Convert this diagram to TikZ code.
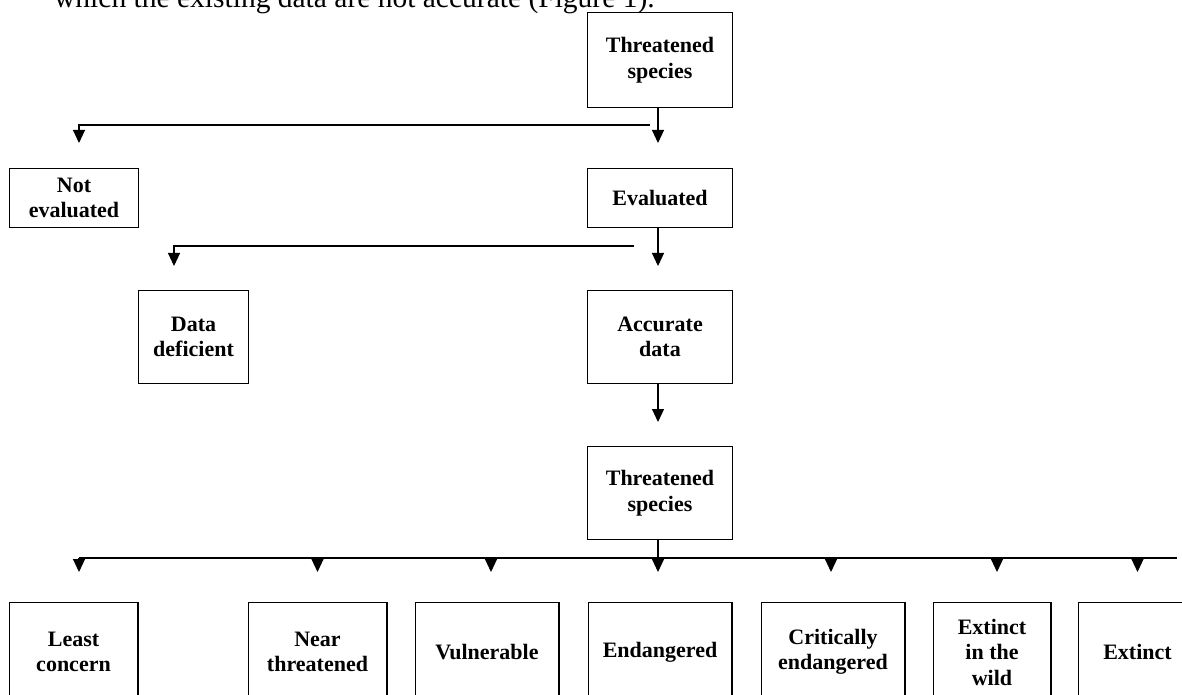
\documentclass[tikz,border=0pt]{standalone}
\usepackage{fontspec}
\setmainfont{Liberation Serif}
\usetikzlibrary{
  arrows.meta,
  positioning,
  calc
}

\begin{document}
\begin{tikzpicture}[
    x=1pt, y=1pt,
    node distance=27pt,
    % Estilos dos blocos
    box/.style={
        rectangle,
        draw=black,
        line width=1.4pt,
        minimum width=144.6pt,
        minimum height=92.6pt,
        inner sep=2pt,
        align=center,
        font=\bfseries\fontsize{22}{25.5}\selectfont,
    },
    lowbox/.style={box, minimum height=98.6pt, minimum width=143.6pt},
    % Estilos das setas
    link/.style={line width=1.1pt, black},
    arrow/.style={-{Triangle[length=13pt, width=12pt]}, line width=1.1pt, black},
    % Estilo do texto
    captiontext/.style={font=\fontsize{29.5}{31}\selectfont, inner sep=0pt},
]

\path[use as bounding box, clip] (0,0) rectangle (1182,694);

% ============================================================================
% TEXTO
% ============================================================================
\node[captiontext, anchor=base west] (caption) at (54,686) {which the existing data are not accurate (Figure 1).};

% ============================================================================
% NIVEL 1
% ============================================================================
\node[box, minimum height=94.6pt] (ts1) at (660,634) {Threatened\\species};
\node[box, minimum height=58.6pt, below=60pt of ts1] (eval) {Evaluated};
\node[box, minimum height=58.6pt, minimum width=128.6pt, left=448pt of eval] (noteval) {Not\\evaluated};

% ============================================================================
% NIVEL 2
% ============================================================================
\node[box, below=62pt of eval] (accdata) {Accurate\\data};
\node[box, minimum width=109.6pt, left=338pt of accdata] (datadef) {Data\\deficient};

% ============================================================================
% NIVEL 3
% ============================================================================
\node[box, below=62pt of accdata] (ts2) {Threatened\\species};

\node[lowbox, below=62pt of ts2] (endang) {Endangered};
\node[lowbox, left=28pt of endang] (vuln) {Vulnerable};
\node[lowbox, minimum width=138.6pt, left=of vuln] (near) {Near\\threatened};
\node[lowbox, minimum width=128.6pt, left=109pt of near] (least) {Least\\concern};
\node[lowbox, right=28pt of endang] (crit) {Critically\\endangered};
\node[lowbox, minimum width=117.6pt, right=of crit] (extwild) {Extinct\\in the\\wild};
\node[lowbox, minimum width=118.6pt, right=26pt of extwild] (extinct) {Extinct};

% ============================================================================
% SETAS
% ============================================================================
% Threatened species -> Evaluated / Not evaluated
\coordinate (eval-in) at ($(eval.north)+(-2,25)$);
\coordinate (split1) at ($(ts1.south)+(-10,-17)$);
\coordinate (noteval-in) at ($(noteval.north)+(5,25)$);
\draw[arrow] (ts1.south -| eval-in) -- (eval-in);
\draw[arrow] (split1) -| (noteval-in);

% Evaluated -> Accurate data / Data deficient
\coordinate (acc-in) at ($(accdata.north)+(-2,24)$);
\coordinate (split2) at ($(eval.south)+(-26,-18)$);
\coordinate (datadef-in) at ($(datadef.north)+(-19.5,24)$);
\draw[arrow] (eval.south -| acc-in) -- (acc-in);
\draw[arrow] (split2) -| (datadef-in);

% Accurate data -> Threatened species
\coordinate (ts2-in) at ($(ts2.north)+(-2,24)$);
\draw[arrow] (accdata.south -| ts2-in) -- (ts2-in);

% Threatened species -> categorias
\coordinate (endang-in) at ($(endang.north)+(-2,30)$);
\draw[arrow] (ts2.south -| endang-in) -- (endang-in);
\coordinate (row-l) at ($(least.north)+(5.5,44)$);
\coordinate (row-r) at ($(extinct.north)+(39,44)$);
\draw[link] (row-l) -- (row-r);
\foreach \cat/\dx in {least/5.5, near/0, vuln/4, crit/-2, extwild/5, extinct/0}
    \draw[arrow] ($(\cat.north)+(\dx,44)$) -- ($(\cat.north)+(\dx,30)$);

\end{tikzpicture}
\end{document}
